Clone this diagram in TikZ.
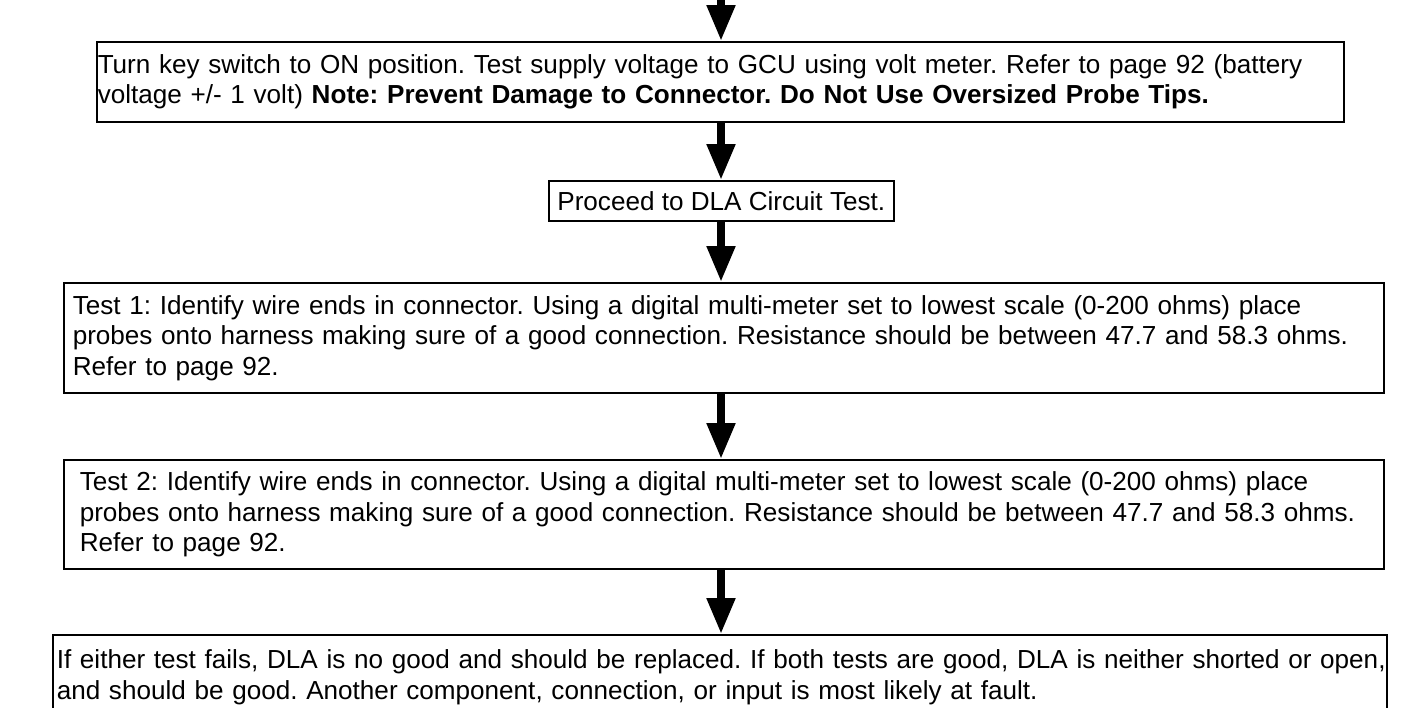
\documentclass[tikz,border=0pt]{standalone}
\usepackage{fontspec}
\setmainfont{Liberation Sans}
\usetikzlibrary{arrows.meta}
\frenchspacing

\begin{document}
\begin{tikzpicture}[
    x=1pt, y=-1pt,
    font=\fontsize{26.1}{30.5}\selectfont,
    stepbox/.style={rectangle, draw=black, line width=1.5pt, anchor=north west, align=left, text=black, inner ysep=0pt},
    flow/.style={-{Triangle[length=36pt 0 0, width=27pt 0 0]}, line width=8pt, draw=black}
  ]
  \useasboundingbox (0,0) rectangle (1415,707);
  \coordinate (entry) at (721,0);

  \node[stepbox, inner xsep=1pt, text width=1245pt, minimum height=80pt] (keyon) at (96,41) {Turn key switch to ON position. Test supply voltage to GCU using volt meter. Refer to page 92 (battery\\voltage +/- 1 volt) \textbf{Note: Prevent Damage to Connector. Do Not Use Oversized Probe Tips.}};
  \node[stepbox, align=center, inner xsep=8pt, minimum width=345pt, minimum height=40pt] (dla) at (548,180) {Proceed to DLA Circuit Test.};
  \node[stepbox, inner xsep=9pt, text width=1302pt, minimum height=110pt] (testone) at (63,282) {Test 1: Identify wire ends in connector. Using a digital multi-meter set to lowest scale (0-200 ohms) place\\probes onto harness making sure of a good connection. Resistance should be between 47.7 and 58.3 ohms.\\Refer to page 92.};
  \node[stepbox, inner xsep=16pt, text width=1288pt, minimum height=109pt] (testtwo) at (63,459) {Test 2: Identify wire ends in connector. Using a digital multi-meter set to lowest scale (0-200 ohms) place\\probes onto harness making sure of a good connection. Resistance should be between 47.7 and 58.3 ohms.\\Refer to page 92.};
  \node[stepbox, inner xsep=4pt, text width=1326pt, minimum height=85pt] (verdict) at (52,634) {\mbox{If either test fails, DLA is no good and should be replaced. If both tests are good, DLA is neither shorted or open,}\\and should be good. Another component, connection, or input is most likely at fault.};

  \draw[flow] (entry) -- (entry |- keyon.north);
  \draw[flow] (keyon.south -| entry) -- (dla.north -| entry);
  \draw[flow] (dla.south -| entry) -- (testone.north -| entry);
  \draw[flow] (testone.south -| entry) -- (testtwo.north -| entry);
  \draw[flow] (testtwo.south -| entry) -- (verdict.north -| entry);
\end{tikzpicture}
\end{document}
